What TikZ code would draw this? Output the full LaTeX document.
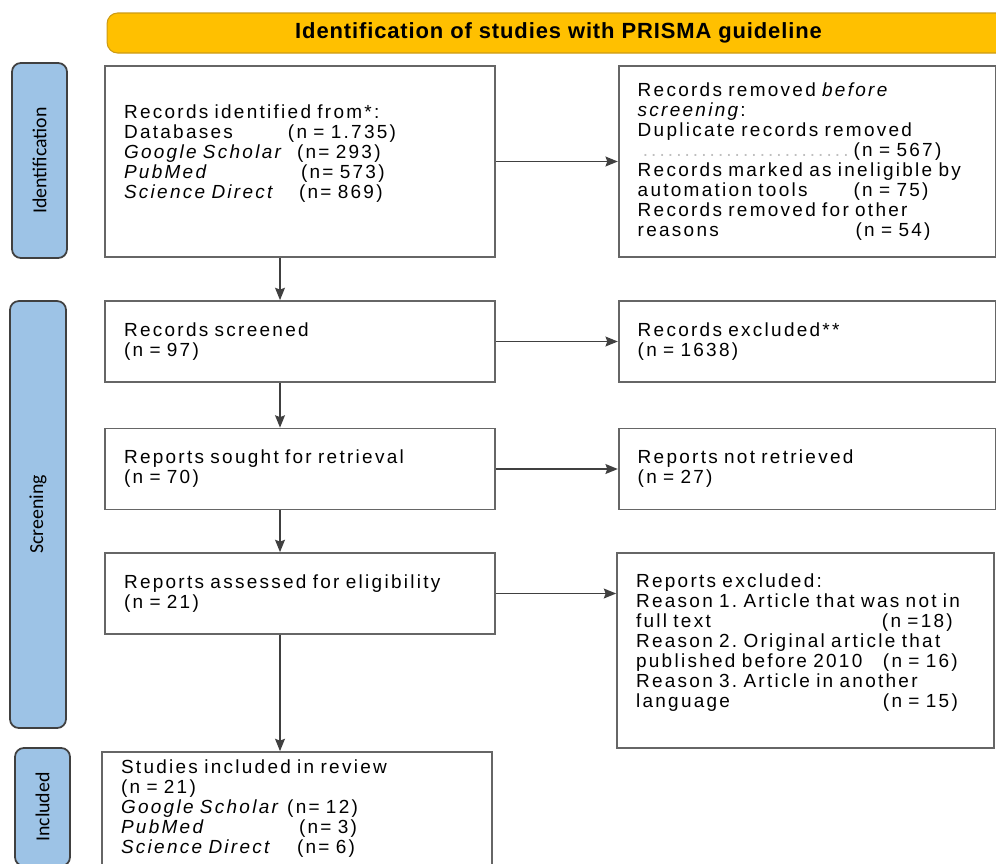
\documentclass[tikz,border=0pt]{standalone}
\usepackage{fontspec}
\setmainfont{Liberation Sans}[LetterSpace=12, WordSpace=1.5]
\newfontfamily\hdrfont{Liberation Sans}[LetterSpace=4]
\newfontfamily\sidefont{Carlito}
\usetikzlibrary{positioning}
\usetikzlibrary{arrows.meta}
\frenchspacing
\definecolor{hdryellow}{RGB}{255,192,0}
\definecolor{hdredge}{RGB}{205,155,20}
\definecolor{phaseblue}{RGB}{157,195,230}
\definecolor{phaseedge}{RGB}{64,64,64}
\newcommand{\padto}[2]{\makebox[#1][l]{#2}}
\newcommand{\dotrule}[1]{\makebox[#1][l]{\textcolor{black!25}{\dotfill}}}
\tikzset{>={Stealth[length=7pt, width=5.6pt, inset=1pt]}}
\tikzset{box/.style={draw=black!60, line width=1pt, rectangle, align=left, inner xsep=0.38cm, font=\fontsize{10.8}{11.38}\selectfont, minimum height=1.62cm}}
\tikzset{lbox/.style={minimum width=7.8cm, text width=7.04cm}}
\tikzset{rbox/.style={minimum width=7.54cm, text width=6.78cm}}
\tikzset{phase/.style={draw=phaseedge, line width=1pt, fill=phaseblue, rounded corners=5pt, rotate=90, inner sep=0pt, font=\sidefont\fontsize{11.3}{12}\selectfont}}
\tikzset{hdr/.style={draw=hdredge, line width=0.6pt, fill=hdryellow, rounded corners=6pt, inner sep=0pt, font=\hdrfont\bfseries\fontsize{12.5}{14}\selectfont}}
\tikzset{flow/.style={->, draw=black!75, line width=0.9pt}}

\begin{document}
\begin{tikzpicture}[x=0.02cm, y=-0.02cm]
    \useasboundingbox (0,0) rectangle (996,863);

    \node[hdr, minimum width=18.06cm, minimum height=0.8cm] (title) at (558.5,33) {Identification of studies with PRISMA guideline};

    % phases
    \node[phase, minimum width=3.9cm, minimum height=1.1cm] (pident) at (39.5,160.5) {Identification};
    \node[phase, minimum width=8.54cm, minimum height=1.12cm] (pscreen) at (38,514.5) {Screening};
    \node[phase, minimum width=2.36cm, minimum height=1.1cm] (pincl) at (42.5,807) {Included};

    % left column
    \node[box, lbox, minimum height=3.82cm] (found) at (300,161.5) {Records identified from*:\\
        \padto{3.28cm}{Databases}(n = 1.735)\\
        \padto{3.46cm}{\textit{Google Scholar}}(n= 293)\\
        \padto{3.54cm}{\textit{PubMed}}(n= 573)\\
        \padto{3.5cm}{\textit{Science Direct}}(n= 869)\\ \mbox{}};
    \node[box, lbox] (screened) at (300,341.5) {Records screened\\(n = 97)};
    \node[box, lbox] (sought) at (300,469) {Reports sought for retrieval\\(n = 70)};
    \node[box, lbox] (assessed) at (300,593.5) {Reports assessed for eligibility\\(n = 21)};
    \node[box, lbox, minimum height=2.28cm] (included) at (297,809) {Studies included in review\\
        (n = 21)\\
        \textit{Google Scholar} (n= 12)\\
        \padto{3.56cm}{\textit{PubMed}}(n= 3)\\
        \padto{3.52cm}{\textit{Science Direct}}(n= 6)};

    % right column
    \node[box, rbox, minimum height=3.82cm, right=2.44cm of found] (removed) {Records removed \textit{before}\\
        \textit{screening}:\\
        Duplicate records removed\\
        \dotrule{4.32cm}(n = 567)\\
        Records marked as ineligible by\\
        \padto{4.32cm}{automation tools}(n = 75)\\
        Records removed for other\\
        \padto{4.36cm}{reasons}(n = 54)};
    \node[box, rbox, right=2.44cm of screened] (excluded) {Records excluded**\\(n = 1638)};
    \node[box, rbox, right=2.44cm of sought] (notret) {Reports not retrieved\\(n = 27)};
    \node[box, rbox, minimum height=3.9cm] (reasons) at (805.5,650.5) {Reports excluded:\\
        Reason 1. Article that was not in\\
        \padto{4.92cm}{full text}(n =18)\\
        Reason 2. Original article that\\
        \padto{4.94cm}{published before 2010}(n = 16)\\
        Reason 3. Article in another\\
        \padto{4.94cm}{language}(n = 15)\\ \mbox{}};

    \draw[flow] ([xshift=-0.4cm]found.south) -- ([xshift=-0.4cm]screened.north);
    \draw[flow] ([xshift=-0.4cm]screened.south) -- ([xshift=-0.4cm]sought.north);
    \draw[flow] ([xshift=-0.4cm]sought.south) -- ([xshift=-0.4cm]assessed.north);
    \draw[flow] ([xshift=-0.4cm]assessed.south) -- ([xshift=-0.34cm]included.north);

    \draw[flow] (found.east) -- (removed.west);
    \draw[flow] (screened.east) -- (excluded.west);
    \draw[flow] (sought.east) -- (notret.west);
    \draw[flow] (assessed.east) -- (assessed.east -| reasons.west);
\end{tikzpicture}
\end{document}
